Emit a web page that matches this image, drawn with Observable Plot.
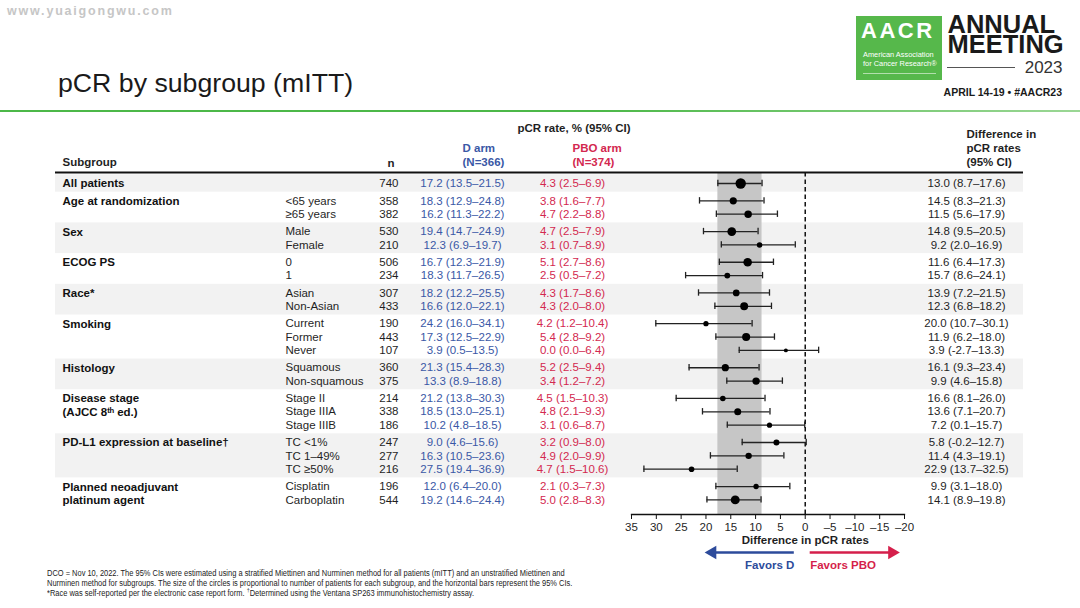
<!DOCTYPE html>
<html>
<head>
<meta charset="utf-8">
<script src="https://cdn.jsdelivr.net/npm/d3@7"></script>
<script src="https://cdn.jsdelivr.net/npm/@observablehq/plot@0.6"></script>
<style>
  body { margin: 0; background: #fff; }
  #slide { position: relative; width: 1080px; height: 608px; overflow: hidden; font-family: "Liberation Sans", Arial, sans-serif; background: #fff; }
  #slide > svg { position: absolute; left: 0; top: 0; }
  .abs { position: absolute; white-space: nowrap; line-height: 1; }
</style>
</head>
<body>
<div id="slide">
  <div class="abs" style="left:7px;top:5px;font-size:12.5px;font-weight:bold;color:#c6c6c6;letter-spacing:1.8px;">www.yuaigongwu.com</div>
  <div class="abs" style="left:58px;top:70px;font-size:26.7px;color:#1a1a1a;">pCR by subgroup (mITT)</div>
  <div class="abs" style="left:0;top:109.5px;width:1080px;height:2.5px;background:linear-gradient(to right,#4cb848 0%,#4cb848 55%,#9bd795 100%);"></div>
  <div class="abs" style="left:856px;top:16px;width:86px;height:64px;background:#56b84b;">
    <div class="abs" style="left:5px;top:4px;font-size:22px;font-weight:bold;color:#fff;letter-spacing:2.5px;">AACR</div>
    <div class="abs" style="left:7px;top:34px;font-size:7.4px;line-height:9px;color:#fff;">American Association<br>for Cancer Research®</div>
    <div class="abs" style="left:7px;top:57px;width:73px;height:1px;background:rgba(255,255,255,0.55);"></div>
  </div>
  <div class="abs" style="left:947px;top:66.5px;width:68px;height:1px;background:#555;"></div>
  <div class="abs" style="right:18px;top:86.9px;font-size:10.5px;font-weight:bold;color:#1a1a1a;">APRIL 14-19 • #AACR23</div>
  <div class="abs" style="left:47px;top:568px;font-size:8.3px;line-height:10px;color:#222;transform:scaleX(0.9);transform-origin:0 0;">DCO = Nov 10, 2022. The 95% CIs were estimated using a stratified Miettinen and Nurminen method for all patients (mITT) and an unstratified Miettinen and<br>Nurminen method for subgroups. The size of the circles is proportional to number of patients for each subgroup, and the horizontal bars represent the 95% CIs.<br>*Race was self-reported per the electronic case report form. <sup style="font-size:6px;line-height:0;">†</sup>Determined using the Ventana SP263 immunohistochemistry assay.</div>
</div>
<script>
// ---------- DATA ----------
const groups = [
  "All patients",
  "Age at randomization",
  "Sex",
  "ECOG PS",
  "Race*",
  "Smoking",
  "Histology",
  "Disease stage\n(AJCC 8ᵗʰ ed.)",
  "PD-L1 expression at baseline†",
  "Planned neoadjuvant\nplatinum agent"
];
const groupOfRow = [0, 1, 1, 2, 2, 3, 3, 4, 4, 5, 5, 5, 6, 6, 7, 7, 7, 8, 8, 8, 9, 9];
const categories = ["", "<65 years", "≥65 years", "Male", "Female", "0", "1", "Asian", "Non-Asian",
  "Current", "Former", "Never", "Squamous", "Non-squamous", "Stage II", "Stage IIIA", "Stage IIIB",
  "TC <1%", "TC 1–49%", "TC ≥50%", "Cisplatin", "Carboplatin"];
const nPatients = [740, 358, 382, 530, 210, 506, 234, 307, 433, 190, 443, 107, 360, 375, 214, 338, 186, 247, 277, 216, 196, 544];
const dArm = ["17.2 (13.5–21.5)", "18.3 (12.9–24.8)", "16.2 (11.3–22.2)", "19.4 (14.7–24.9)", "12.3 (6.9–19.7)",
  "16.7 (12.3–21.9)", "18.3 (11.7–26.5)", "18.2 (12.2–25.5)", "16.6 (12.0–22.1)", "24.2 (16.0–34.1)",
  "17.3 (12.5–22.9)", "3.9 (0.5–13.5)", "21.3 (15.4–28.3)", "13.3 (8.9–18.8)", "21.2 (13.8–30.3)",
  "18.5 (13.0–25.1)", "10.2 (4.8–18.5)", "9.0 (4.6–15.6)", "16.3 (10.5–23.6)", "27.5 (19.4–36.9)",
  "12.0 (6.4–20.0)", "19.2 (14.6–24.4)"];
const pboArm = ["4.3 (2.5–6.9)", "3.8 (1.6–7.7)", "4.7 (2.2–8.8)", "4.7 (2.5–7.9)", "3.1 (0.7–8.9)",
  "5.1 (2.7–8.6)", "2.5 (0.5–7.2)", "4.3 (1.7–8.6)", "4.3 (2.0–8.0)", "4.2 (1.2–10.4)",
  "5.4 (2.8–9.2)", "0.0 (0.0–6.4)", "5.2 (2.5–9.4)", "3.4 (1.2–7.2)", "4.5 (1.5–10.3)",
  "4.8 (2.1–9.3)", "3.1 (0.6–8.7)", "3.2 (0.9–8.0)", "4.9 (2.0–9.9)", "4.7 (1.5–10.6)",
  "2.1 (0.3–7.3)", "5.0 (2.8–8.3)"];
const diff   = [13.0, 14.5, 11.5, 14.8, 9.2, 11.6, 15.7, 13.9, 12.3, 20.0, 11.9, 3.9, 16.1, 9.9, 16.6, 13.6, 7.2, 5.8, 11.4, 22.9, 9.9, 14.1];
const diffLo = [8.7, 8.3, 5.6, 9.5, 2.0, 6.4, 8.6, 7.2, 6.8, 10.7, 6.2, -2.7, 9.3, 4.6, 8.1, 7.1, 0.1, -0.2, 4.3, 13.7, 3.1, 8.9];
const diffHi = [17.6, 21.3, 17.9, 20.5, 16.9, 17.3, 24.1, 21.5, 18.2, 30.1, 18.0, 13.3, 23.4, 15.8, 26.0, 20.7, 15.7, 12.7, 19.1, 32.5, 18.0, 19.8];
const xTicks = [35, 30, 25, 20, 15, 10, 5, 0, -5, -10, -15, -20];
const xTickLabels = ["35", "30", "25", "20", "15", "10", "5", "0", "–5", "–10", "–15", "–20"];
const favorArrows = [
  {label: "Favors D", from: 2.2, to: 18.7, dir: -90, color: "#2d4b9b"},
  {label: "Favors PBO", from: -1.0, to: -17.5, dir: 90, color: "#d51f4b"}
];

// ---------- LAYOUT ----------
const L = 631, R = 904, TOP = 172, AXIS = 514;
const yDomain = [0, 23.7], yRange = [183, 499.4];
const yAt = px => (px - yRange[0]) / (yRange[1] - yRange[0]) * (yDomain[1] - yDomain[0]);
const tableLeft = 55, tableRight = 1023;
const BLUE = "#3a58a6", RED = "#d3284f", INK = "#1f1f1f";
const FS = 11.5;

const rows = categories.map((c, i) => {
  const g = groupOfRow[i];
  return {
    i, g, pos: i + 0.3 * g, category: c, n: nPatients[i], d: dArm[i], p: pboArm[i],
    diff: diff[i], lo: diffLo[i], hi: diffHi[i],
    diffText: `${diff[i].toFixed(1)} (${diffLo[i].toFixed(1)}–${diffHi[i].toFixed(1)})`,
    groupLabel: (i === 0 || groupOfRow[i - 1] !== g) ? groups[g] : ""
  };
});
const bands = groups.map((name, g) => {
  const rs = rows.filter(r => r.g === g);
  return {g, y1: rs[0].pos - 0.65, y2: rs[rs.length - 1].pos + 0.65};
}).filter(b => b.g % 2 === 0);

const fixed = (str, px, py, o = {}) => Plot.text([str], {
  text: d => d, frameAnchor: "top-left", dx: px - L, dy: py - TOP,
  lineAnchor: "middle", fontSize: FS, fill: INK, ...o
});
const col = (field, px, o = {}) => Plot.text(rows, {
  y: "pos", text: field, frameAnchor: "left", dx: px - L, fontSize: FS, fill: INK, ...o
});

const chart = Plot.plot({
  width: 1080, height: 608,
  marginLeft: L, marginRight: 1080 - R, marginTop: TOP, marginBottom: 608 - AXIS,
  style: {fontFamily: "'Liberation Sans', Arial, sans-serif", fontSize: "11.5px", color: INK, background: "transparent", overflow: "visible"},
  x: {domain: [35, -20]},
  y: {domain: yDomain, range: yRange, axis: null},
  r: {type: "sqrt", domain: [0, 740], range: [0, 5.2]},
  marks: [
    Plot.rect(bands, {y1: "y1", y2: "y2", fill: "#f2f2f2", insetLeft: -(L - tableLeft), insetRight: -(tableRight - R)}),
    Plot.rect([rows[0]], {x1: "lo", x2: "hi", fill: "#c6c6c6"}),
    Plot.ruleY([yAt(TOP)], {stroke: "#111", strokeWidth: 2, insetLeft: -(L - tableLeft), insetRight: -(tableRight - R)}),
    Plot.ruleX([0], {stroke: "#111", strokeWidth: 1.5, strokeDasharray: "4.5,3"}),
    Plot.frame({anchor: "bottom", stroke: "#111", strokeWidth: 1.3}),
    Plot.axisX({ticks: xTicks, tickFormat: d => xTickLabels[xTicks.indexOf(d)], tickSize: 5, tickPadding: 3, fontSize: FS, label: null, stroke: "#111", fill: INK}),
    Plot.text([{x: 0, t: "Difference in pCR rates"}], {x: "x", y: () => yAt(540), text: "t", fontWeight: "bold", fontSize: FS, fill: INK}),
    // CI whiskers
    Plot.ruleY(rows, {y: "pos", x1: "lo", x2: "hi", stroke: "#222", strokeWidth: 1.3}),
    Plot.ruleX(rows, {x: "lo", y1: d => d.pos - 0.24, y2: d => d.pos + 0.24, stroke: "#222", strokeWidth: 1.3}),
    Plot.ruleX(rows, {x: "hi", y1: d => d.pos - 0.24, y2: d => d.pos + 0.24, stroke: "#222", strokeWidth: 1.3}),
    Plot.dot(rows, {x: "diff", y: "pos", r: "n", fill: "#000", stroke: null}),
    // favours arrows
    Plot.ruleY(favorArrows, {y: () => yAt(552), x1: "from", x2: "to", stroke: "color", strokeWidth: 2.6}),
    Plot.dot(favorArrows, {x: "to", y: () => yAt(552), symbol: "triangle", r: 5, rotate: "dir", fill: "color", stroke: null}),
    Plot.text([favorArrows[0]], {x: "from", y: () => yAt(565), text: "label", textAnchor: "end", fill: "color", fontWeight: "bold", fontSize: FS}),
    Plot.text([favorArrows[1]], {x: "from", y: () => yAt(565), text: "label", textAnchor: "start", fill: "color", fontWeight: "bold", fontSize: FS}),
    // meeting logo lettering
    fixed("ANNUAL\nMEETING", 947, 36.5, {textAnchor: "start", fontWeight: "bold", fontSize: 25.5, lineHeight: 20 / 25.5, fill: "#1a1a1a"}),
    fixed("2023", 1062, 67, {textAnchor: "end", fontSize: 17, fontWeight: 300, fill: "#333"}),
    // headers
    fixed("Subgroup", 62, 162, {textAnchor: "start", fontWeight: "bold"}),
    fixed("n", 387, 163, {fontWeight: "bold"}),
    fixed("pCR rate, % (95% CI)", 517, 128, {fontWeight: "bold"}),
    fixed("D arm\n(N=366)", 462, 154, {fontWeight: "bold", fill: BLUE, lineHeight: 1.22}),
    fixed("PBO arm\n(N=374)", 572, 154, {fontWeight: "bold", fill: RED, lineHeight: 1.22}),
    fixed("Difference in\npCR rates\n(95% CI)", 966, 147, {fontWeight: "bold", lineHeight: 1.24}),
    // table columns
    Plot.text(rows, {y: "pos", text: "groupLabel", frameAnchor: "left", dx: 62 - L, dy: -5.5, lineAnchor: "top", lineHeight: 1.161, textAnchor: "start", fontWeight: "bold", fontSize: FS, fill: "#111"}),
    col("category", 285, {textAnchor: "start"}),
    col(d => String(d.n), 398, {textAnchor: "end"}),
    col("d", 462, {textAnchor: "middle", fill: BLUE}),
    col("p", 572, {textAnchor: "middle", fill: RED}),
    col("diffText", 966, {textAnchor: "middle"})
  ]
});
document.getElementById("slide").prepend(chart);
</script>
</body>
</html>
